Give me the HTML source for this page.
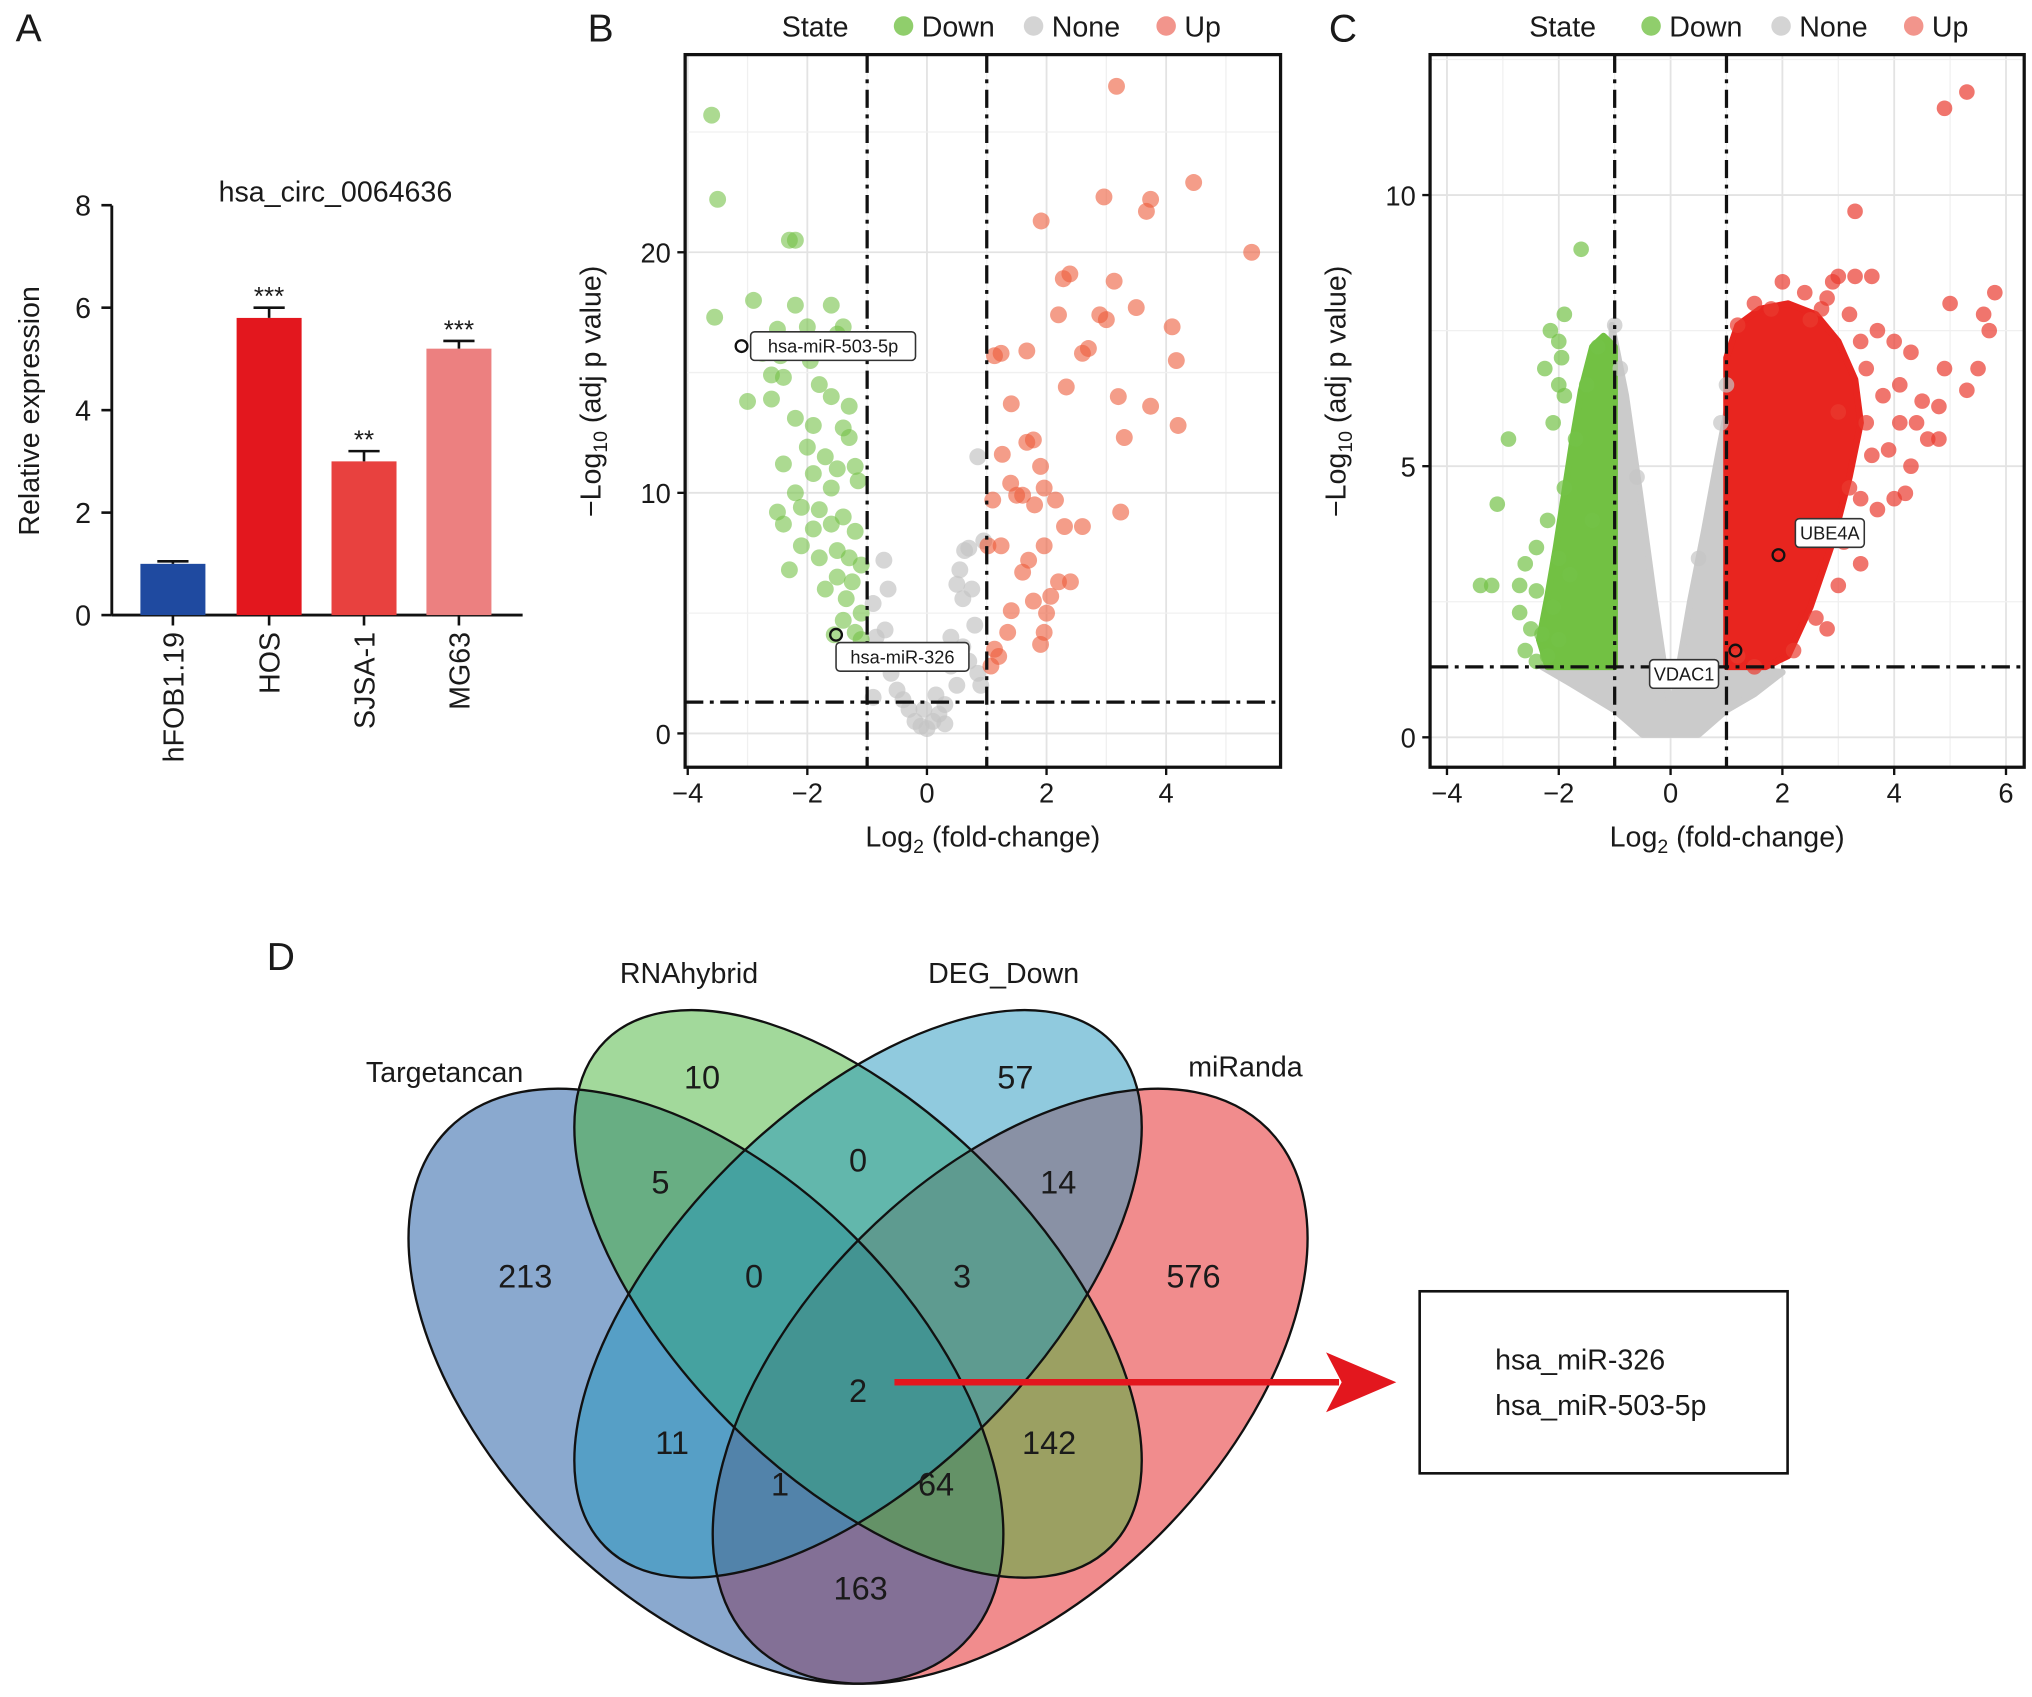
<!DOCTYPE html>
<html><head><meta charset="utf-8"><style>
html,body{margin:0;padding:0;background:#fff;overflow:hidden;width:2032px;height:1697px}
svg{display:block;font-family:"Liberation Sans",Arial,sans-serif}
</style></head><body>
<svg id="fig" width="2032" height="1697" viewBox="0 0 1563 1305" preserveAspectRatio="none" overflow="hidden" xmlns="http://www.w3.org/2000/svg">
<rect width="1563" height="1305" fill="#fff"/>
<g id="pa"></g>
<g id="pb"></g>
<g id="pc"></g>
<g id="pd"></g>
</svg>
<script>
// ---------- Panel A data ----------
const barCats=["hFOB1.19","HOS","SJSA-1","MG63"];
const barVals=[1.0,5.8,3.0,5.2];
const barErr=[0.05,0.2,0.2,0.15];
const barSig=["","***","**","***"];
const barColors=["#1f4aa0","#e3171e","#e8413f","#ec8080"];
const aTicks=[0,2,4,6,8];
// ---------- Panel B data ----------
const bDown=[[-3.6,25.7],[-3.5,22.2],[-2.3,20.5],[-2.2,20.5],[-3.55,17.3],[-2.9,18.0],[-2.2,17.8],[-1.6,17.8],[-2.5,16.8],[-2.0,16.9],[-1.4,16.9],[-2.75,15.8],[-2.45,15.7],[-1.95,15.5],[-1.5,16.6],[-2.4,14.8],[-2.6,14.9],[-1.8,14.5],[-3.0,13.8],[-2.6,13.9],[-1.6,14.0],[-1.3,13.6],[-2.2,13.1],[-1.9,12.8],[-1.4,12.7],[-1.3,12.3],[-2.0,11.9],[-2.4,11.2],[-1.7,11.5],[-1.5,11.0],[-1.2,11.1],[-1.9,10.8],[-2.2,10.0],[-1.6,10.2],[-1.15,10.5],[-2.5,9.2],[-2.1,9.4],[-1.8,9.3],[-1.4,9.0],[-2.4,8.7],[-1.9,8.5],[-1.6,8.7],[-1.2,8.4],[-2.1,7.8],[-1.5,7.6],[-1.3,7.3],[-1.8,7.3],[-1.1,7.0],[-2.3,6.8],[-1.5,6.5],[-1.7,6.0],[-1.25,6.3],[-1.35,5.6],[-1.1,5.0],[-1.4,4.7],[-1.2,4.2],[-1.55,4.1],[-1.1,3.9]];
const bUp=[[3.17,26.9],[5.43,20.0],[4.46,22.9],[2.96,22.3],[3.74,22.2],[3.67,21.7],[1.91,21.3],[2.28,18.9],[2.39,19.1],[3.13,18.8],[3.5,17.7],[2.89,17.4],[3.0,17.2],[4.1,16.9],[2.2,17.4],[2.7,16.0],[2.6,15.8],[4.17,15.5],[1.67,15.9],[1.24,15.8],[1.13,15.7],[2.33,14.4],[3.2,14.0],[3.74,13.6],[4.2,12.8],[3.3,12.3],[1.41,13.7],[1.67,12.1],[1.78,12.2],[1.26,11.6],[1.9,11.1],[1.4,10.4],[1.96,10.2],[2.15,9.7],[1.6,9.9],[3.24,9.2],[2.3,8.6],[2.6,8.6],[1.24,7.8],[1.02,7.8],[1.96,7.8],[1.6,6.7],[2.2,6.3],[2.4,6.3],[1.41,5.1],[1.78,5.5],[2.07,5.7],[1.35,4.2],[1.9,3.7],[1.96,4.2],[1.13,3.5],[1.07,2.8],[1.2,3.2],[1.1,9.7],[1.5,9.9],[1.8,9.5],[1.7,7.2],[2.0,5.0]];
const bNone=[[0.85,11.5],[0.63,7.6],[0.55,6.8],[0.5,6.2],[0.6,5.6],[0.4,4.0],[0.75,6.0],[0.8,4.5],[0.7,3.0],[0.85,2.5],[0.5,2.0],[0.3,1.2],[0.1,0.5],[-0.1,0.3],[0.2,0.8],[-0.3,1.0],[-0.5,1.8],[-0.6,2.5],[-0.8,3.0],[-0.7,4.3],[-0.65,6.0],[-0.72,7.2],[-0.9,5.4],[-0.85,4.0],[-0.4,1.4],[0.0,0.2],[0.4,2.8],[0.6,3.6],[0.9,2.0],[-0.9,1.5],[-0.2,0.5],[0.15,1.6],[0.95,8.0],[0.7,7.7],[-0.55,3.3],[0.3,0.4],[-0.05,1.0]];
const bLabels=[{t:"hsa-miR-503-5p",x:-3.1,y:16.1},{t:"hsa-miR-326",x:-1.52,y:4.1}];
const bXTicks=[-4,-2,0,2,4];
const bYTicks=[0,10,20];
// ---------- Panel C data ----------
const cDownBlob=[[-1,1.3],[-1,7.2],[-1.2,7.4],[-1.4,7.2],[-1.6,6.4],[-1.75,5.5],[-1.9,4.5],[-2.05,3.5],[-2.2,2.6],[-2.35,1.8],[-2.2,1.3]];
const cUpBlob=[[1,1.3],[1,7.0],[1.2,7.6],[1.6,7.9],[2.1,8.0],[2.6,7.8],[3.0,7.3],[3.3,6.6],[3.4,5.8],[3.2,4.8],[2.9,3.6],[2.5,2.4],[2.1,1.5],[1.7,1.3]];
const cNoneBlob=[[-1.05,7.6],[-0.8,6.3],[-0.55,4.5],[-0.3,2.6],[-0.1,1.2],[0,0.5],[0.1,1.0],[0.35,2.5],[0.6,3.8],[0.85,5.2],[1.0,6.0],[1.0,1.3],[2.0,1.2],[1.5,0.8],[1.0,0.5],[0.5,0.05],[-0.5,0.05],[-1.0,0.5],[-1.8,1.0],[-2.3,1.3],[-1.05,1.3]];
const cDown=[[-2.15,7.5],[-2.0,7.3],[-1.9,7.8],[-1.95,7.0],[-2.25,6.8],[-2.0,6.5],[-2.9,5.5],[-3.1,4.3],[-3.4,2.8],[-3.2,2.8],[-2.7,2.8],[-2.6,3.2],[-2.4,3.5],[-2.7,2.3],[-2.5,2.0],[-2.3,1.9],[-2.6,1.6],[-2.2,1.5],[-2.0,1.8],[-1.6,9.0],[-2.4,2.7],[-2.1,2.4],[-2.2,4.0],[-1.9,4.6],[-2.0,3.3],[-1.7,5.5],[-1.5,6.5],[-1.3,7.2],[-1.8,3.0],[-1.4,4.0],[-2.4,1.4],[-2.1,5.8],[-1.9,6.3]];
const cUp=[[5.3,11.9],[4.9,11.6],[3.3,9.7],[3.0,8.5],[3.3,8.5],[2.9,8.4],[3.6,8.5],[2.0,8.4],[2.4,8.2],[2.7,7.9],[3.7,7.5],[4.0,7.3],[4.3,7.1],[5.0,8.0],[5.8,8.2],[5.6,7.8],[5.7,7.5],[4.9,6.8],[5.3,6.4],[5.5,6.8],[4.8,5.5],[4.5,6.2],[4.8,6.1],[4.1,5.8],[4.3,5.0],[4.2,4.5],[4.0,4.4],[3.9,5.3],[3.7,4.2],[3.8,6.3],[3.4,3.2],[3.2,4.6],[3.5,5.8],[3.1,3.6],[4.6,5.5],[1.5,8.0],[1.2,7.6],[4.1,6.5],[4.4,5.8],[3.0,6.0],[2.6,2.2],[2.2,1.6],[1.5,1.3],[3.4,7.3],[2.5,7.7],[1.8,7.9],[3.5,6.8],[3.6,5.2],[3.4,4.4],[3.0,2.8],[2.8,2.0],[1.2,1.5],[3.2,7.8],[2.8,8.1]];
const cNone=[[-1.0,7.6],[1.0,6.5],[-0.9,6.8],[0.9,5.8],[-0.6,4.8],[0.5,3.3]];
const cLabels=[{t:"UBE4A",x:1.93,y:3.36,dx:13,dy:-17},{t:"VDAC1",x:1.16,y:1.6,dx:-13,dy:18}];
const cXTicks=[-4,-2,0,2,4,6];
const cYTicks=[0,5,10];
// ---------- Panel D data ----------
const vennSets=["Targetancan","RNAhybrid","DEG_Down","miRanda"];
const vennCounts=[213,10,57,576,5,0,14,0,3,2,11,142,1,64,163];

const NS="http://www.w3.org/2000/svg";
function mk(tag,attrs,parent,name,inter){const e=document.createElementNS(NS,tag);for(const k in attrs)e.setAttribute(k,attrs[k]);


parent.appendChild(e);return e;}
function txt(parent,x,y,s,size,name,anchor,extra){const e=mk('text',Object.assign({x:x,y:y,'font-size':size,'text-anchor':anchor||'middle',fill:'#1a1a1a'},extra||{}),parent,name,false);e.textContent=s;return e;}

// ---------- Panel A ----------
(function(){
const g=document.getElementById('pa');
txt(g,22,32,"A",30,'panel-label-a','middle');
const y=v=>473-v*39.4;
const xc=[133,207,280,353];
mk('line',{x1:86,y1:158,x2:86,y2:473,stroke:'#111','stroke-width':2.2},g,'y-axis-line',false);
mk('line',{x1:86,y1:473,x2:402,y2:473,stroke:'#111','stroke-width':2.2},g,'x-axis-line',false);
aTicks.forEach(t=>{mk('line',{x1:78,y1:y(t),x2:86,y2:y(t),stroke:'#111','stroke-width':2},g,'y-tick',false);
txt(g,70,y(t)+8,String(t),22,'y-tick-label','end');});
barVals.forEach((v,i)=>{
mk('rect',{x:xc[i]-25,y:y(v),width:50,height:473-y(v),fill:barColors[i]},g,'bar-'+barCats[i].toLowerCase(),false);
const te=y(v+barErr[i]);
mk('path',{d:`M${xc[i]},${y(v)} V${te} M${xc[i]-12},${te} H${xc[i]+12}`,stroke:'#111','stroke-width':2,fill:'none'},g,'error-bar',false);
if(barSig[i])txt(g,xc[i],te-2,barSig[i],20,'significance-mark','middle');
mk('line',{x1:xc[i],y1:473,x2:xc[i],y2:481,stroke:'#111','stroke-width':2},g,'x-tick',false);
txt(g,xc[i]+8,486,barCats[i],22,'x-tick-label','end',{transform:`rotate(-90 ${xc[i]+8} 486)`});
});
txt(g,258,155,"hsa_circ_0064636",22,'chart-title','middle');
txt(g,30,316,"Relative expression",22,'y-axis-title','middle',{transform:'rotate(-90 30 316)'});
})();

// ---------- Volcano helper ----------
function volcano(g,o){
const X=v=>o.x0+v*o.kx, Y=v=>o.y0-v*o.ky;
txt(g,o.lab[0],o.lab[1],o.labT,30,'panel-label','middle');
mk('rect',{x:o.L,y:o.T,width:o.R-o.L,height:o.B-o.T,fill:'#fff'},g,'plot-background',false);
for(let v=o.xmin;v<=o.xmax;v+=1){if(X(v)>o.L&&X(v)<o.R)mk('line',{x1:X(v),y1:o.T,x2:X(v),y2:o.B,stroke:v%2===0?'#e3e3e3':'#f0f0f0','stroke-width':v%2===0?1.4:1},g,'grid-line-x',false);}
for(let v=0;v<=o.ymax;v+=o.ystep/2){if(Y(v)>o.T&&Y(v)<o.B)mk('line',{x1:o.L,y1:Y(v),x2:o.R,y2:Y(v),stroke:(v%o.ystep===0)?'#e3e3e3':'#f0f0f0','stroke-width':(v%o.ystep===0)?1.4:1},g,'grid-line-y',false);}
const poly=(pts,fill,name)=>mk('polygon',{points:pts.map(p=>X(p[0])+','+Y(p[1])).join(' '),fill:fill,stroke:fill,'stroke-width':5,'stroke-linejoin':'round'},g,name,false);
if(o.noneBlob)poly(o.noneBlob,'#cbcbcb','none-density');
if(o.downBlob)poly(o.downBlob,'#72c143','down-density');
if(o.upBlob)poly(o.upBlob,'#e8251f','up-density');
const dots=(arr,fill,op,name)=>arr.forEach(p=>mk('circle',{cx:X(p[0]),cy:Y(p[1]),r:o.r,fill:fill,'fill-opacity':op},g,name,false));
dots(o.none,'#c4c4c4',0.7,'point-none');
dots(o.down,'#74c247',o.op,'point-down');
dots(o.up,o.upColor,o.op,'point-up');
const dash={stroke:'#111','stroke-width':2.5,'stroke-dasharray':'14,5,3,5',fill:'none'};
mk('line',Object.assign({x1:X(-1),y1:o.T,x2:X(-1),y2:o.B},dash),g,'threshold-line-neg',false);
mk('line',Object.assign({x1:X(1),y1:o.T,x2:X(1),y2:o.B},dash),g,'threshold-line-pos',false);
mk('line',Object.assign({x1:o.L,y1:Y(1.3),x2:o.R,y2:Y(1.3)},dash),g,'threshold-line-p',false);
o.labels.forEach(l=>{const px=X(l.x),py=Y(l.y);
mk('circle',{cx:px,cy:py,r:4.5,fill:'none',stroke:'#111','stroke-width':1.8},g,'highlight-point',false);
const w=l.t.length*8.2+12,lx=px+l.dx,ly=py+l.dy;
const rx=l.dx>=0?lx:lx-w;
mk('rect',{x:rx,y:ly-11,width:w,height:22,rx:3,fill:'#fff',stroke:'#333','stroke-width':1.2},g,'point-label-box',false);
txt(g,rx+w/2,ly+5,l.t,14,'point-label','middle');});
mk('rect',{x:o.L,y:o.T,width:o.R-o.L,height:o.B-o.T,fill:'none',stroke:'#111','stroke-width':2.5},g,'plot-border',false);
o.xt.forEach(t=>{mk('line',{x1:X(t),y1:o.B,x2:X(t),y2:o.B+6,stroke:'#111','stroke-width':1.8},g,'x-tick',false);
txt(g,X(t),o.B+27,(t<0?'\u2212':'')+Math.abs(t),21,'x-tick-label','middle');});
o.yt.forEach(t=>{mk('line',{x1:o.L-6,y1:Y(t),x2:o.L,y2:Y(t),stroke:'#111','stroke-width':1.8},g,'y-tick',false);
txt(g,o.L-11,Y(t)+8,String(t),21,'y-tick-label','end');});
const xt=txt(g,(o.L+o.R)/2,651,"Log",22,'x-axis-title','middle');
const s1=document.createElementNS(NS,'tspan');s1.setAttribute('font-size','15');s1.setAttribute('dy','5');s1.textContent='2';xt.appendChild(s1);
const s2=document.createElementNS(NS,'tspan');s2.setAttribute('dy','-5');s2.textContent=' (fold-change)';xt.appendChild(s2);
const yx=o.L-65,yy=(o.T+o.B)/2-15;
const yt=txt(g,yx,yy,"\u2212Log",22,'y-axis-title','middle',{transform:`rotate(-90 ${yx} ${yy})`});
const s3=document.createElementNS(NS,'tspan');s3.setAttribute('font-size','15');s3.setAttribute('dy','5');s3.textContent='10';yt.appendChild(s3);
const s4=document.createElementNS(NS,'tspan');s4.setAttribute('dy','-5');s4.textContent=' (adj p value)';yt.appendChild(s4);
const lx=o.legX;
txt(g,lx,28,"State",22,'legend-title','middle');
[["Down","#74c247",68],["None","#c9c9c9",168],["Up","#ef7a6f",270]].forEach(e=>{
mk('circle',{cx:lx+e[2],cy:20,r:7.5,fill:e[1],'fill-opacity':0.8},g,'legend-swatch-'+e[0].toLowerCase(),false);
txt(g,lx+e[2]+14,28,e[0],22,'legend-entry-'+e[0].toLowerCase(),'start');});
}
volcano(document.getElementById('pb'),{L:527,R:985,T:42,B:590,x0:713,kx:46,y0:564,ky:18.5,xmin:-4,xmax:6,ymax:28,ystep:10,r:6.5,op:0.6,upColor:'#ec5b3b',
down:bDown,up:bUp,none:bNone,labels:[{t:bLabels[0].t,x:bLabels[0].x,y:bLabels[0].y,dx:7,dy:0},{t:bLabels[1].t,x:bLabels[1].x,y:bLabels[1].y,dx:0,dy:17}],xt:bXTicks,yt:bYTicks,lab:[462,32],labT:"B",legX:627});
volcano(document.getElementById('pc'),{L:1100,R:1557,T:42,B:590,x0:1285,kx:43,y0:567,ky:41.7,xmin:-4,xmax:6,ymax:13,ystep:5,r:6,op:0.7,upColor:'#ea3b2f',
down:cDown,up:cUp,none:cNone,downBlob:cDownBlob,upBlob:cUpBlob,noneBlob:cNoneBlob,labels:cLabels,xt:cXTicks,yt:cYTicks,lab:[1033,32],labT:"C",legX:1202});

// ---------- Panel D ----------
(function(){
const g=document.getElementById('pd');
txt(g,216,746,"D",30,'panel-label-d','middle');
const ell=[{cx:543,cy:1066,a:280,b:162,rot:45,fill:'#1553a0'},{cx:660,cy:995,a:275,b:140,rot:45,fill:'#46b337'},{cx:660,cy:995,a:275,b:140,rot:-45,fill:'#2196bd'},{cx:777,cy:1066,a:280,b:162,rot:-45,fill:'#e31a1c'}];
const order=[3,0,1,2];
order.forEach(i=>{const e=ell[i];mk('ellipse',{cx:e.cx,cy:e.cy,rx:e.a,ry:e.b,transform:`rotate(${e.rot} ${e.cx} ${e.cy})`,fill:e.fill,'fill-opacity':0.5},g,'venn-set-'+vennSets[i].toLowerCase(),false);});
ell.forEach((e,i)=>mk('ellipse',{cx:e.cx,cy:e.cy,rx:e.a,ry:e.b,transform:`rotate(${e.rot} ${e.cx} ${e.cy})`,fill:'none',stroke:'#111','stroke-width':1.8},g,'venn-outline',false));
const lp=[[342,832],[530,756],[772,756],[958,828]];
vennSets.forEach((s,i)=>txt(g,lp[i][0],lp[i][1],s,22,'venn-set-label','middle'));
const cp=[[404,990],[540,837],[781,837],[918,990],[508,918],[660,901],[814,918],[580,990],[740,990],[660,1078],[517,1118],[807,1118],[600,1150],[720,1150],[662,1230]];
vennCounts.forEach((c,i)=>txt(g,cp[i][0],cp[i][1],String(c),25,'venn-count','middle'));
mk('line',{x1:688,y1:1063,x2:1030,y2:1063,stroke:'#e3171e','stroke-width':5},g,'arrow-line',false);
mk('polygon',{points:'1074,1063 1020,1040 1032,1063 1020,1086',fill:'#e3171e'},g,'arrow-head',false);
mk('rect',{x:1092,y:993,width:283,height:140,fill:'#fff',stroke:'#111','stroke-width':2},g,'result-box',false);
txt(g,1150,1053,"hsa_miR-326",22,'result-item','start');
txt(g,1150,1088,"hsa_miR-503-5p",22,'result-item','start');
})();
</script>
</body></html>
